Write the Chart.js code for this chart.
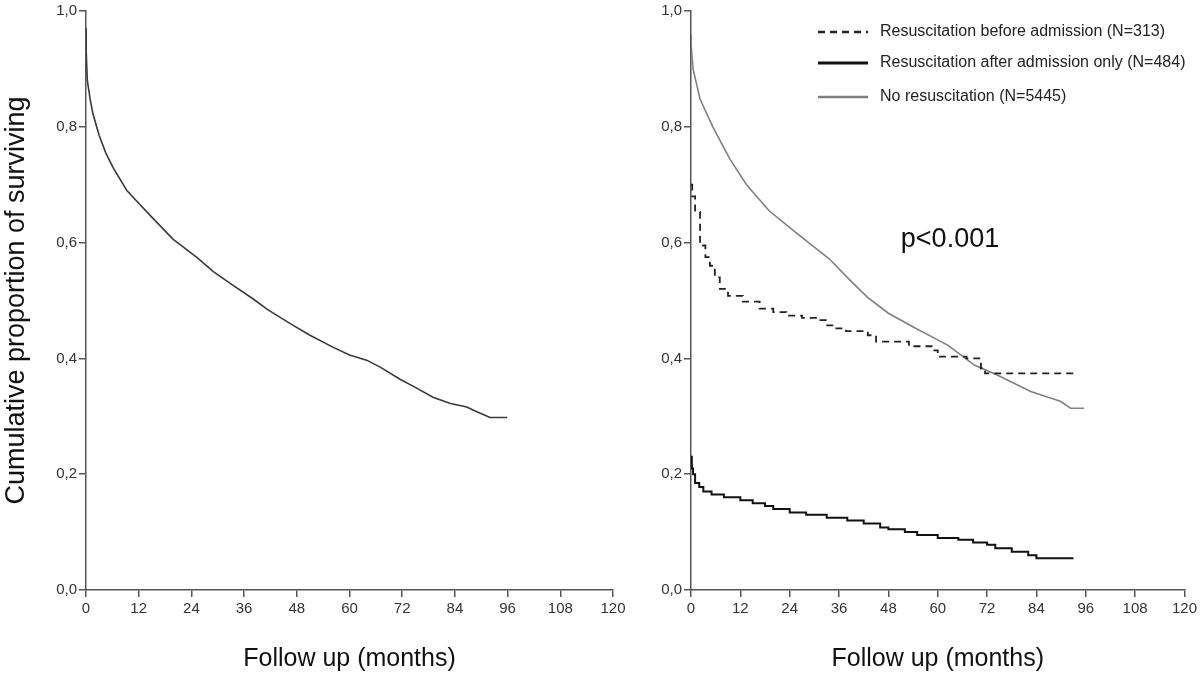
<!DOCTYPE html>
<html>
<head>
<meta charset="utf-8">
<script src="https://cdn.jsdelivr.net/npm/chart.js@4"></script>
<style>
  body { margin: 0; background: #fff; }
  #wrap { position: relative; width: 1200px; height: 680px; }
  #left { position: absolute; left: 0; top: 0; }
  #right { position: absolute; left: 640px; top: 0; }
</style>
</head>
<body>
<div id="wrap">
  <canvas id="left" width="640" height="680"></canvas>
  <canvas id="right" width="560" height="680"></canvas>
</div>
<script>
// Kaplan-Meier curves, values

// whole cohort (left panel)
const allMonths = [0, 0.05, 0.3, 1, 1.6, 3, 4.5, 6.2, 9.3, 12, 14.6, 19.8, 25.3, 29, 33.5, 38, 41.2, 46.5, 51, 56.3, 60, 63.9, 67, 71.5, 75, 79, 83, 86.7, 89, 92, 95.9];
const allSurv = [0.97, 0.93, 0.88, 0.845, 0.822, 0.785, 0.755, 0.729, 0.69, 0.668, 0.647, 0.606, 0.574, 0.55, 0.526, 0.503, 0.485, 0.46, 0.44, 0.419, 0.406, 0.397, 0.385, 0.364, 0.35, 0.333, 0.322, 0.316, 0.308, 0.298, 0.298];

// right panel
const beforeMonths = [0, 0.3, 1, 2.2, 3.5, 4.6, 5.8, 7, 9, 12.6, 16.7, 20, 23.2, 27, 31.2, 32.8, 35, 37.7, 43, 45, 53, 58.5, 60, 67, 70.5, 71.5, 94];
const beforeSurv = [0.70, 0.68, 0.653, 0.595, 0.575, 0.56, 0.54, 0.52, 0.508, 0.498, 0.486, 0.48, 0.474, 0.47, 0.466, 0.457, 0.452, 0.447, 0.44, 0.429, 0.421, 0.414, 0.403, 0.40, 0.383, 0.374, 0.374];

const afterMonths = [0, 0.2, 0.5, 1, 2, 3, 5, 8, 12, 15, 18, 20, 24, 28, 33, 38, 42, 46, 48, 52, 55, 60, 65, 68.6, 72, 74, 78, 82, 84, 93];
const afterSurv = [0.23, 0.21, 0.2, 0.185, 0.178, 0.17, 0.165, 0.16, 0.155, 0.15, 0.145, 0.14, 0.134, 0.13, 0.125, 0.12, 0.115, 0.108, 0.105, 0.1, 0.095, 0.09, 0.087, 0.082, 0.078, 0.072, 0.066, 0.06, 0.055, 0.055];

const noneMonths = [0, 0.05, 0.5, 2.2, 5.3, 9.4, 13.5, 19, 25.6, 33.6, 38.4, 43, 48, 54.6, 60, 62.6, 69, 74.6, 82.6, 89.8, 92.3, 95.6];
const noneSurv = [0.96, 0.94, 0.9, 0.848, 0.80, 0.745, 0.70, 0.655, 0.617, 0.572, 0.537, 0.505, 0.478, 0.452, 0.432, 0.422, 0.388, 0.371, 0.343, 0.326, 0.314, 0.314];

const xTicks = [0, 12, 24, 36, 48, 60, 72, 84, 96, 108, 120];
const yTicks = [0, 0.2, 0.4, 0.6, 0.8, 1.0];

const seriesLabels = [
  "Resuscitation before admission (N=313)",
  "Resuscitation after admission only (N=484)",
  "No resuscitation (N=5445)"
];

const FONT = "'Liberation Sans', Arial, sans-serif";
const axisColor = "#555";

const toPoints = (xs, ys) => xs.map((m, i) => ({ x: m, y: ys[i] }));

const makeScales = (yWidth, yTitle) => ({
  x: {
    type: "linear",
    min: 0,
    max: 120,
    afterBuildTicks: (s) => { s.ticks = xTicks.map((v) => ({ value: v })); },
    afterFit: (s) => { s.height = 90; },
    grid: { drawOnChartArea: false, drawTicks: true, tickLength: 7, color: axisColor, lineWidth: 1.5 },
    border: { display: true, color: axisColor, width: 1.5 },
    ticks: { color: "#333", padding: 3, maxRotation: 0, font: { family: FONT, size: 15 } },
    title: { display: true, text: "Follow up (months)", color: "#111", padding: { top: 0, bottom: 6 }, font: { family: FONT, size: 25 } },
  },
  y: {
    min: 0,
    max: 1,
    afterBuildTicks: (s) => { s.ticks = yTicks.map((v) => ({ value: v })); },
    afterFit: (s) => { s.width = yWidth; },
    grid: { drawOnChartArea: false, drawTicks: true, tickLength: 7, color: axisColor, lineWidth: 1.5 },
    border: { display: true, color: axisColor, width: 1.5 },
    ticks: {
      color: "#333",
      padding: 2,
      font: { family: FONT, size: 15 },
      callback: (v) => v.toFixed(1).replace(".", ","),
    },
    title: { display: !!yTitle, text: yTitle || "", color: "#111", padding: { top: 0, bottom: 0 }, font: { family: FONT, size: 27 } },
  },
});

// left panel
new Chart(document.getElementById("left").getContext("2d"), {
  type: "line",
  data: {
    datasets: [
      {
        label: "All",
        data: toPoints(allMonths, allSurv),
        borderColor: "#3a3a3a",
        borderWidth: 1.6,
        pointRadius: 0,
        tension: 0,
      },
    ],
  },
  options: {
    responsive: false,
    animation: false,
    layout: { padding: { top: 10, right: 27, left: 0, bottom: 0 } },
    scales: makeScales(86, "Cumulative proportion of surviving"),
    plugins: { legend: { display: false }, tooltip: { enabled: false } },
  },
});

// legend and p-value drawn on the right panel
const legendPlugin = {
  id: "kmLegend",
  afterDraw(chart) {
    const ctx = chart.ctx;
    const rows = [32, 63, 97];
    ctx.save();
    chart.data.datasets.forEach((ds, i) => {
      ctx.beginPath();
      ctx.strokeStyle = ds.borderColor;
      ctx.lineWidth = ds.borderWidth + 0.8;
      ctx.setLineDash(ds.borderDash || []);
      ctx.moveTo(178, rows[i]);
      ctx.lineTo(228, rows[i]);
      ctx.stroke();
      ctx.setLineDash([]);
      ctx.fillStyle = "#222";
      ctx.font = `16px ${FONT}`;
      ctx.textBaseline = "middle";
      ctx.textAlign = "left";
      ctx.fillText(ds.label, 240, rows[i]);
    });
    ctx.font = `27px ${FONT}`;
    ctx.fillStyle = "#111";
    ctx.textAlign = "center";
    ctx.fillText("p<0.001", 310, 240);
    ctx.restore();
  },
};

new Chart(document.getElementById("right").getContext("2d"), {
  type: "line",
  data: {
    datasets: [
      {
        label: seriesLabels[0],
        data: toPoints(beforeMonths, beforeSurv),
        borderColor: "#222",
        borderWidth: 1.8,
        borderDash: [7, 5],
        stepped: true,
        pointRadius: 0,
      },
      {
        label: seriesLabels[1],
        data: toPoints(afterMonths, afterSurv),
        borderColor: "#111",
        borderWidth: 2,
        stepped: true,
        pointRadius: 0,
      },
      {
        label: seriesLabels[2],
        data: toPoints(noneMonths, noneSurv),
        borderColor: "#808080",
        borderWidth: 1.6,
        pointRadius: 0,
        tension: 0,
      },
    ],
  },
  options: {
    responsive: false,
    animation: false,
    layout: { padding: { top: 11, right: 12, left: 0, bottom: 0 } },
    scales: makeScales(51, null),
    plugins: { legend: { display: false }, tooltip: { enabled: false } },
  },
  plugins: [legendPlugin],
});
</script>
</body>
</html>
